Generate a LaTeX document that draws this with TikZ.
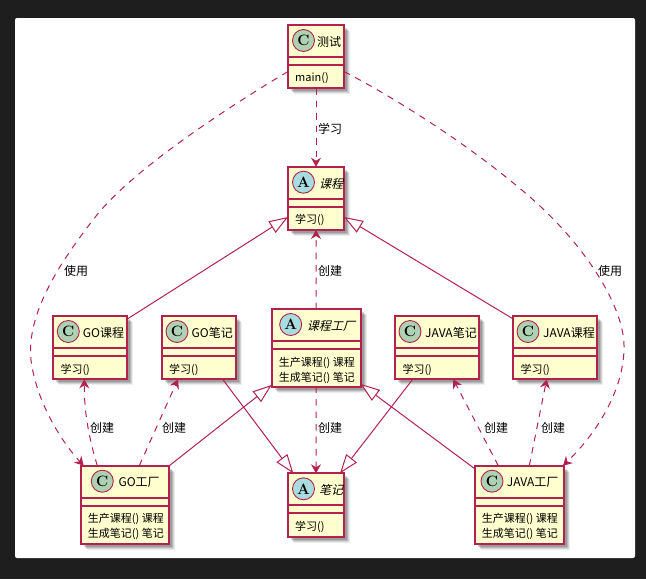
\documentclass[tikz,border=0pt]{standalone}
\usepackage{fontspec}
\usetikzlibrary{arrows.meta,calc}
\newfontfamily\cjk{Noto Sans CJK SC}
\newfontfamily\cjkit[FakeSlant=0.25]{Noto Sans CJK SC}
\definecolor{umlred}{HTML}{B3224F}
\definecolor{umlfill}{HTML}{FEFECE}
\definecolor{iconC}{HTML}{ADD1B2}
\definecolor{iconA}{HTML}{A9DCDF}
\definecolor{pagebg}{HTML}{1E1E1E}
\tikzset{
  softshadow/.style={preaction={fill=black,opacity=#1}},
  umlbox/.style={draw=umlred,fill=umlfill,line width=1.8pt,rectangle,inner sep=0pt,outer sep=0pt,anchor=north west,
    preaction={fill=black,opacity=.07,transform canvas={shift={(6pt,-6pt)}}},
    preaction={fill=black,opacity=.10,transform canvas={shift={(5pt,-5pt)}}},
    preaction={fill=black,opacity=.13,transform canvas={shift={(4pt,-4pt)}}},
    preaction={fill=black,opacity=.15,transform canvas={shift={(3pt,-3pt)}}}},
  sepline/.style={draw=umlred,line width=1.8pt},
  iconbase/.style={circle,draw=umlred,line width=.9pt,minimum size=22pt,inner sep=0pt,font=\fontsize{15}{15}\selectfont\bfseries},
  titletext/.style={anchor=west,inner sep=0pt,font=\fontsize{12}{14}\selectfont\cjk},
  abstracttext/.style={anchor=west,inner sep=0pt,font=\fontsize{12}{14}\selectfont\cjkit},
  membertext/.style={anchor=north west,inner sep=0pt,align=left,font=\fontsize{11}{15}\selectfont\cjk},
  linktext/.style={inner sep=0pt,font=\fontsize{12}{14}\selectfont\cjk},
  dep/.style={draw=umlred,line width=1pt,dash pattern=on 6.5pt off 6pt,-{Stealth[inset=3pt,length=9pt,width=10pt]}},
  ext/.style={draw=umlred,line width=1pt,-{Triangle[open,fill=white,length=19pt,width=13.5pt]}}
}
\newcommand{\umlnode}[9]{%
  \node[umlbox,minimum width=#4pt,minimum height=#5pt] (#1) at (#2,#3) {};
  \draw[sepline] ([yshift=-32pt]#1.north west) -- ([yshift=-32pt]#1.north east);
  \draw[sepline] ([yshift=-40pt]#1.north west) -- ([yshift=-40pt]#1.north east);
  \node[iconbase,fill=#8] (#1icon) at ([xshift=#6pt,yshift=-15.5pt]#1.north west) {#9};
  \umlnodeb{#1}{#7}}
\newcommand{\umlnodeb}[5]{%
  \node[#3] (#1title) at ([xshift=#2pt,yshift=-17pt]#1.north west) {#4};
  \node[membertext] (#1body) at ([xshift=7pt,yshift=-47.7pt]#1.north west) {#5};}
\begin{document}
\begin{tikzpicture}[x=1pt,y=-1pt]
\fill[pagebg] (0,0) rectangle (646,579);
\fill[white,rounded corners=2pt] (15,18) rectangle (635,558);

\umlnode{t}{288}{25}{56}{63}{15.5}{29}{iconC}{C}{titletext}{测试}{main()}
\umlnode{kc}{288}{166.7}{56}{63.3}{15.5}{31}{iconA}{A}{abstracttext}{课程}{学习()}
\umlnode{goc}{53.3}{316}{74}{63.3}{15}{29.4}{iconC}{C}{titletext}{GO课程}{学习()}
\umlnode{gon}{162}{316}{74}{63.3}{15}{29.4}{iconC}{C}{titletext}{GO笔记}{学习()}
\umlnode{kf}{271.7}{309}{89}{77.7}{19}{35}{iconA}{A}{abstracttext}{课程工厂}{生产课程() 课程\\生成笔记() 笔记}
\umlnode{jn}{395.3}{316}{83.7}{63.3}{14.7}{29.7}{iconC}{C}{titletext}{JAVA笔记}{学习()}
\umlnode{jc}{513.3}{316}{83.7}{63.3}{14.7}{29.7}{iconC}{C}{titletext}{JAVA课程}{学习()}
\umlnode{gof}{80.7}{465.7}{88.6}{78.6}{21.6}{37.6}{iconC}{C}{titletext}{GO工厂}{生产课程() 课程\\生成笔记() 笔记}
\umlnode{bj}{288}{473.3}{56}{63.4}{15.5}{31}{iconA}{A}{abstracttext}{笔记}{学习()}
\umlnode{jf}{474.7}{465.7}{89.3}{78.6}{17.3}{32}{iconC}{C}{titletext}{JAVA工厂}{生产课程() 课程\\生成笔记() 笔记}

\coordinate (la) at (93,220);
\coordinate (lb) at (31,360);
\coordinate (ra) at (530,197);
\coordinate (rb) at (624,345);

\draw[dep] (t.south) -- (kc.north);
\draw[dep] (kf.north) -- (kc.south);
\draw[dep] (kf.south) -- (bj.north);
\draw[dep] ([yshift=-46.5pt]t.north west) .. controls (235,103) and (130,170) .. (la)
  .. controls (50,275) and (27,320) .. (lb)
  .. controls (36,400) and (60,440) .. ([xshift=3pt]gof.north west);
\draw[dep] ([yshift=-46.5pt]t.north east) .. controls (395,98) and (470,145) .. (ra)
  .. controls (585,245) and (623,305) .. (rb)
  .. controls (625,390) and (595,435) .. ([xshift=-1pt]jf.north east);
\draw[dep] ([xshift=16.6pt]gof.north west) .. controls (85,425) and (84.3,400) .. ([xshift=31pt]goc.south west);
\draw[dep] ([xshift=58.6pt]gof.north west) -- ([xshift=16pt]gon.south west);
\draw[dep] ([xshift=23.6pt]jf.north west) -- ([xshift=58pt]jn.south west);
\draw[dep] ([xshift=54.6pt]jf.north west) -- ([xshift=33.4pt]jc.south west);

\draw[ext] ([yshift=-3pt]goc.north east) -- ([yshift=-50.3pt]kc.north west);
\draw[ext] ([yshift=-3pt]jc.north west) -- ([yshift=-50.3pt]kc.north east);
\draw[ext] (gof.north east) -- ([yshift=1.7pt]kf.south west);
\draw[ext] ([yshift=-3pt]jf.north west) -- ([yshift=2.7pt]kf.south east);
\draw[ext] ([xshift=60.7pt]gon.south west) -- ([xshift=5.3pt]bj.north west);
\draw[ext] ([xshift=17.4pt]jn.south west) -- ([xshift=-4pt]bj.north east);

\node[linktext] (l1) at (330,129) {学习};
\node[linktext] (l2) at (76,271) {使用};
\node[linktext] (l3) at (610,271) {使用};
\node[linktext] (l4) at (330,271) {创建};
\node[linktext] (l5) at (102,428) {创建};
\node[linktext] (l6) at (174,428) {创建};
\node[linktext] (l7) at (330,428) {创建};
\node[linktext] (l8) at (496,428) {创建};
\node[linktext] (l9) at (553,428) {创建};
\end{tikzpicture}
\end{document}
